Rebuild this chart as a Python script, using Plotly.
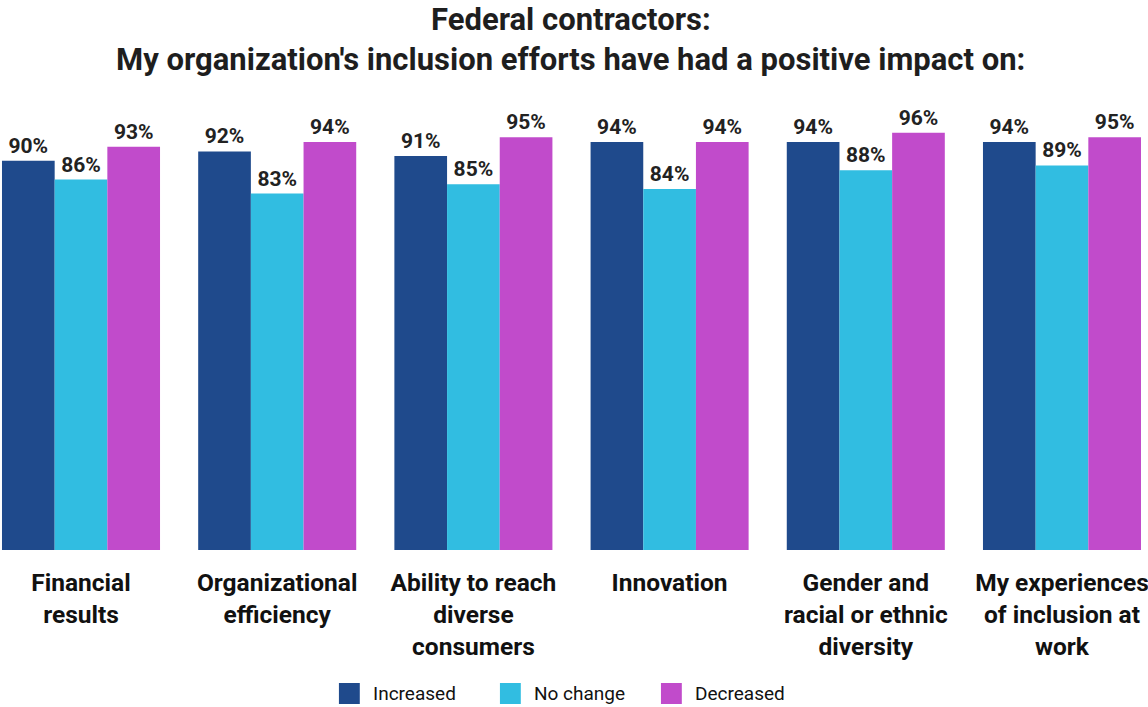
import plotly.graph_objects as go

# ---- data ----
categories = [
    "Financial<br>results",
    "Organizational<br>efficiency",
    "Ability to reach<br>diverse<br>consumers",
    "Innovation",
    "Gender and<br>racial or ethnic<br>diversity",
    "My experiences<br>of inclusion at<br>work",
]
series_names = ["Increased", "No change", "Decreased"]
increased = [90, 92, 91, 94, 94, 94]
no_change = [86, 83, 85, 84, 88, 89]
decreased = [93, 94, 95, 94, 96, 95]
series_values = [increased, no_change, decreased]
colors = ["#1F4A8C", "#31BDE1", "#C14BCB"]

title_line1 = "Federal contractors:"
title_line2 = "My organization's inclusion efforts have had a positive impact on:"

# ---- layout constants ----
W, H = 1148, 707
M_T, M_B = 100, 157
PLOT_H = H - M_T - M_B
FONT = "Roboto, Arial, sans-serif"
TXT = "#1E1E1E"


def py2paper(py):
    return (H - M_B - py) / PLOT_H


fig = go.Figure()
for name, vals, col in zip(series_names, series_values, colors):
    fig.add_trace(go.Bar(
        name=name, x=categories, y=vals, marker_color=col,
        marker_line_width=0,
        texttemplate="<b>%{y}%</b>", textposition="outside",
        textfont=dict(family=FONT, size=21, color="#222222"),
        constraintext="none", cliponaxis=False, showlegend=False,
        hoverinfo="skip",
    ))

annotations = [
    dict(text="<b>" + title_line1 + "</b>", x=0.5, xref="paper", y=py2paper(19.5), yref="paper",
         xanchor="center", yanchor="middle", showarrow=False,
         font=dict(family=FONT, size=31, color=TXT)),
    dict(text="<b>" + title_line2 + "</b>", x=0.5, xref="paper", y=py2paper(59.5), yref="paper",
         xanchor="center", yanchor="middle", showarrow=False,
         font=dict(family=FONT, size=31, color=TXT)),
]
shapes = []
leg_x0, leg_step, sq, leg_cy = 341, 162, 21, 693.5
for i, (name, col) in enumerate(zip(series_names, colors)):
    x0 = leg_x0 + i * leg_step
    shapes.append(dict(type="rect", xref="paper", yref="paper",
                       x0=x0 / W, x1=(x0 + sq) / W,
                       y0=py2paper(leg_cy + sq / 2), y1=py2paper(leg_cy - sq / 2),
                       fillcolor=col, line=dict(width=0)))
    annotations.append(dict(text=name, x=(x0 + 32) / W, xref="paper",
                            y=py2paper(leg_cy), yref="paper",
                            xanchor="left", yanchor="middle", showarrow=False,
                            font=dict(family=FONT, size=19, color="#111111")))

fig.update_layout(
    width=W, height=H,
    margin=dict(l=0, r=0, t=M_T, b=M_B, pad=0),
    paper_bgcolor="white", plot_bgcolor="white",
    barmode="group", bargap=0.1945, bargroupgap=0,
    showlegend=False,
    font=dict(family=FONT, color=TXT),
    xaxis=dict(type="category", range=[-0.4129, 5.4027], showgrid=False,
               zeroline=False, showline=False, ticks="outside", ticklen=11,
               tickcolor="rgba(0,0,0,0)",
               tickfont=dict(family=FONT, size=24.5, color="#111111", weight="bold")),
    yaxis=dict(range=[7.01, 102.96], visible=False, showgrid=False, zeroline=False),
    annotations=annotations, shapes=shapes,
)

fig.write_html("out.html")
